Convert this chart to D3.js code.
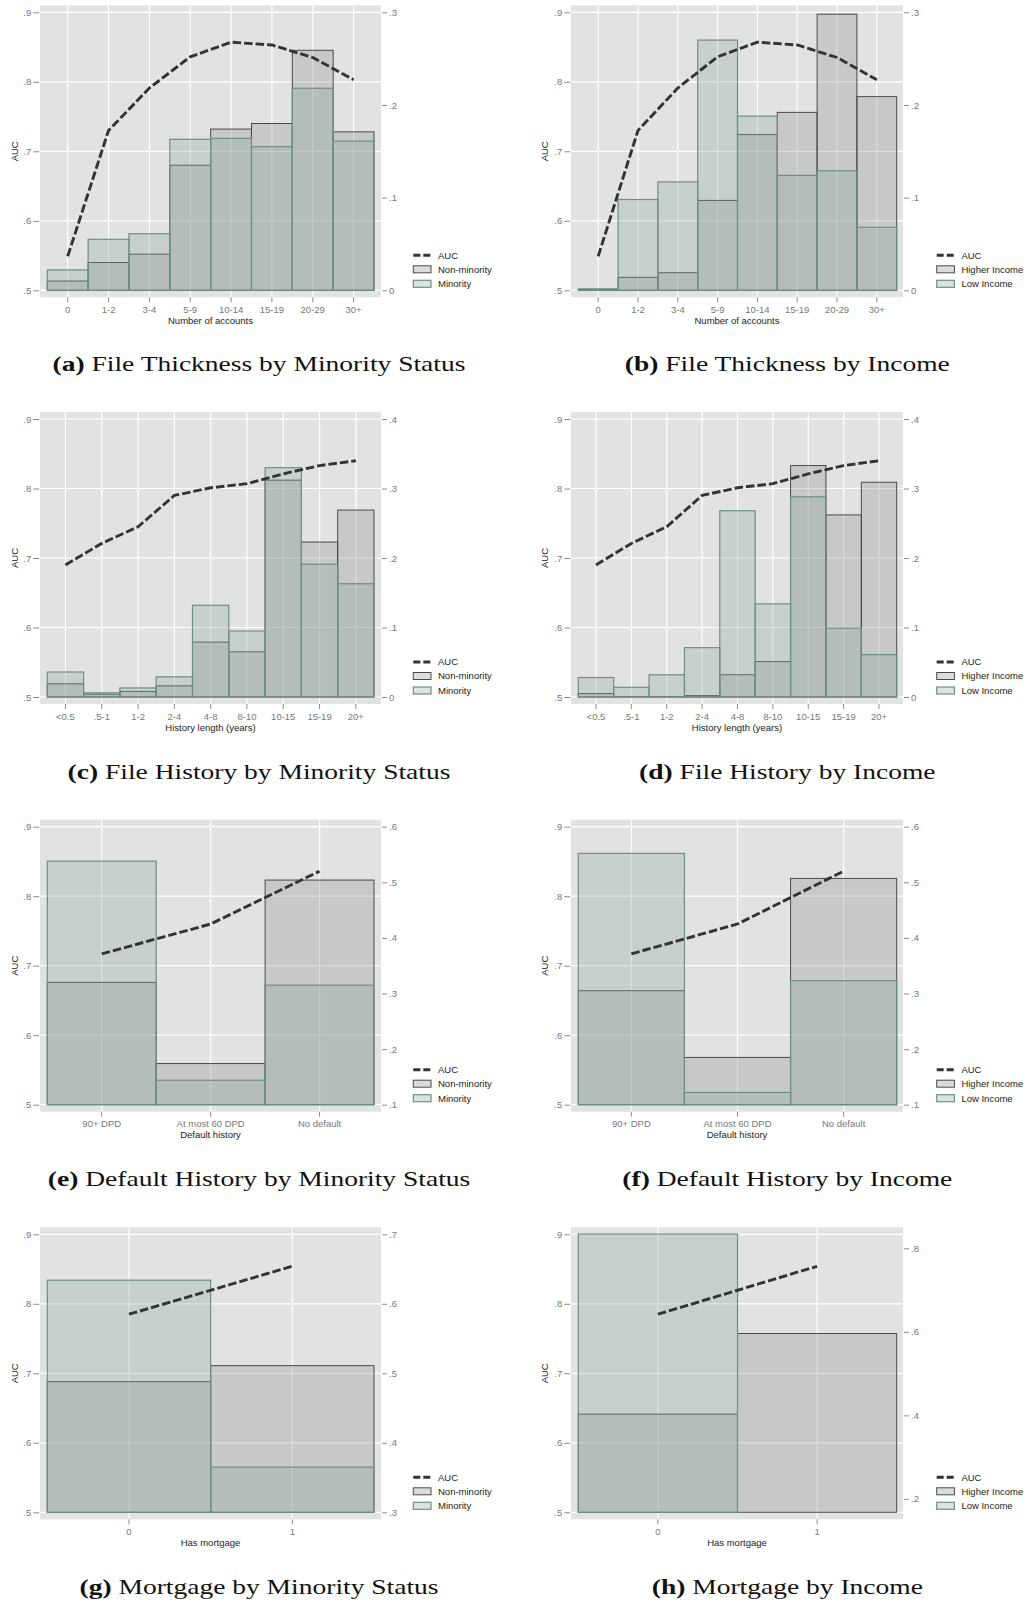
<!DOCTYPE html>
<html>
<head>
<meta charset="utf-8">
<script src="https://cdn.jsdelivr.net/npm/d3@7"></script>
<style>
  body { margin: 0; background: #fff; }
  text { font-family: "Liberation Sans", Arial, sans-serif; }
</style>
</head>
<body>
<script>
// categories
var thicknessCats = ["0", "1-2", "3-4", "5-9", "10-14", "15-19", "20-29", "30+"];
var historyCats = ["<0.5", ".5-1", "1-2", "2-4", "4-8", "8-10", "10-15", "15-19", "20+"];
var defaultCats = ["90+ DPD", "At most 60 DPD", "No default"];
var mortgageCats = ["0", "1"];

// AUC by category (left axis)
var thicknessAUC = [0.549, 0.730, 0.791, 0.836, 0.857, 0.853, 0.835, 0.803];
var historyAUC = [0.690, 0.721, 0.745, 0.790, 0.801, 0.807, 0.821, 0.833, 0.840];
var defaultAUC = [0.717, 0.760, 0.836];
var mortgageAUC = [0.785, 0.854];

// population shares (right axis)
var thicknessNonMinority = [0.010, 0.030, 0.039, 0.135, 0.174, 0.180, 0.259, 0.171];
var thicknessMinority = [0.022, 0.055, 0.061, 0.163, 0.164, 0.155, 0.218, 0.161];
var thicknessHigherIncome = [0.001, 0.014, 0.019, 0.097, 0.168, 0.192, 0.298, 0.209];
var thicknessLowIncome = [0.0015, 0.098, 0.117, 0.270, 0.188, 0.124, 0.129, 0.068];

var historyNonMinority = [0.019, 0.004, 0.008, 0.016, 0.079, 0.065, 0.312, 0.223, 0.269];
var historyMinority = [0.036, 0.006, 0.013, 0.029, 0.132, 0.095, 0.330, 0.191, 0.163];
var historyHigherIncome = [0.005, 0.0005, 0.0005, 0.002, 0.032, 0.051, 0.333, 0.262, 0.309];
var historyLowIncome = [0.028, 0.014, 0.032, 0.071, 0.268, 0.134, 0.288, 0.099, 0.061];

var defaultNonMinority = [0.320, 0.174, 0.504];
var defaultMinority = [0.538, 0.144, 0.315];
var defaultHigherIncome = [0.305, 0.185, 0.507];
var defaultLowIncome = [0.552, 0.122, 0.323];

var mortgageNonMinority = [0.488, 0.511];
var mortgageMinority = [0.634, 0.365];
var mortgageHigherIncome = [0.403, 0.596];
var mortgageLowIncome = [0.834, null];

// axis ticks
var aucTicks = [0.5, 0.6, 0.7, 0.8, 0.9];
var thicknessShareTicks = [0, 0.1, 0.2, 0.3];
var historyShareTicks = [0, 0.1, 0.2, 0.3, 0.4];
var defaultShareTicks = [0.1, 0.2, 0.3, 0.4, 0.5, 0.6];
var mortgageMinShareTicks = [0.3, 0.4, 0.5, 0.6, 0.7];
var mortgageIncShareTicks = [0.2, 0.4, 0.6, 0.8];

var minorityLegend = ["AUC", "Non-minority", "Minority"];
var incomeLegend = ["AUC", "Higher Income", "Low Income"];

// layout
var cols = [
  {bgL: 40, bgR: 381, barL: 47.3, barR: 374, yTitleX: 15, legX: 413.3, capX: 259},
  {bgL: 571, bgR: 903, barL: 578.3, barR: 896.7, yTitleX: 545, legX: 936.7, capX: 787.3}
];
var rowTop = [12.3, 419, 826.7, 1234.3];
var plotH = 278;
var capBase = [370.5, 779.2, 1186.1, 1594];
var capStretch = 1.31;

var svg = d3.select("body").append("svg")
    .attr("width", 1026)
    .attr("height", 1602);

var fmt = d => d === 0 ? "0" : d3.format(".1f")(d).replace(/^0/, "");

function panel(p) {
  var c = cols[p.col];
  var top = rowTop[p.row], base = top + plotH;
  var g = svg.append("g");

  var y = d3.scaleLinear().domain([0.5, 0.9]).range([base, top]);
  var y2 = d3.scaleLinear().domain(p.rightDomain).range([base, top]);
  var x = d3.scaleBand().domain(p.cats).range([c.barL, c.barR]).padding(0);
  var bw = x.bandwidth();
  var cx = d => x(d) + bw / 2;

  g.append("rect")
    .attr("x", c.bgL).attr("y", top - 7)
    .attr("width", c.bgR - c.bgL).attr("height", plotH + 14)
    .attr("fill", "#e2e2e2");

  g.selectAll(".hg").data(aucTicks).enter().append("line")
    .attr("x1", c.bgL).attr("x2", c.bgR)
    .attr("y1", d => y(d)).attr("y2", d => y(d))
    .attr("stroke", "#fff").attr("stroke-width", 1.2);
  g.selectAll(".vg").data(p.cats).enter().append("line")
    .attr("x1", cx).attr("x2", cx)
    .attr("y1", top - 7).attr("y2", base + 7)
    .attr("stroke", "#fff").attr("stroke-width", 1.2);

  var dataA = p.cats.map((k, i) => ({k: k, v: p.groupA[i]})).filter(d => d.v != null);
  var dataB = p.cats.map((k, i) => ({k: k, v: p.groupB[i]})).filter(d => d.v != null);

  g.selectAll(".ba").data(dataA).enter().append("rect")
    .attr("x", d => x(d.k)).attr("width", bw)
    .attr("y", d => y2(d.v)).attr("height", d => base - y2(d.v))
    .attr("fill", "#8a8a8a").attr("fill-opacity", 0.3)
    .attr("stroke", "#4a4a4a").attr("stroke-width", 1);

  g.selectAll(".bb").data(dataB).enter().append("rect")
    .attr("x", d => x(d.k)).attr("width", bw)
    .attr("y", d => y2(d.v)).attr("height", d => base - y2(d.v))
    .attr("fill", "#88a699").attr("fill-opacity", 0.3)
    .attr("stroke", "#6d9084").attr("stroke-width", 1.2);

  var line = d3.line().x((d, i) => cx(p.cats[i])).y(d => y(d));
  g.append("path")
    .datum(p.auc)
    .attr("fill", "none")
    .attr("stroke", "#333")
    .attr("stroke-width", 2.9)
    .attr("stroke-dasharray", "8.5,3")
    .attr("d", line);

  // axes
  var la = g.append("g")
    .attr("transform", `translate(${c.bgL - 0.7},0)`)
    .call(d3.axisLeft(y).tickValues(aucTicks).tickSize(6).tickPadding(2).tickFormat(fmt));
  var ra = g.append("g")
    .attr("transform", `translate(${c.bgR + 1},0)`)
    .call(d3.axisRight(y2).tickValues(p.rightTicks).tickSize(5).tickPadding(2).tickFormat(fmt));
  var ba = g.append("g")
    .attr("transform", `translate(0,${base + 7})`)
    .call(d3.axisBottom(x).tickSize(5).tickPadding(4));
  [la, ra, ba].forEach(a => {
    a.select(".domain").remove();
    a.selectAll(".tick line").attr("stroke", "#8c8c8c");
    a.selectAll(".tick text").attr("fill", "#777").style("font-size", "9.5px")
      .style("font-family", "Liberation Sans, Arial, sans-serif");
  });

  g.append("text")
    .attr("transform", `translate(${c.yTitleX},${(top + base) / 2}) rotate(-90)`)
    .attr("text-anchor", "middle").attr("dy", "0.35em")
    .attr("fill", "#222").style("font-size", "9.5px")
    .text("AUC");

  g.append("text")
    .attr("x", (c.bgL + c.bgR) / 2).attr("y", base + 33.5)
    .attr("text-anchor", "middle")
    .attr("fill", "#222").style("font-size", "9.5px")
    .text(p.xTitle);

  // legend
  var lg = g.append("g").attr("transform", `translate(${c.legX},${base})`);
  lg.append("line")
    .attr("x1", 0).attr("x2", 19).attr("y1", -35).attr("y2", -35)
    .attr("stroke", "#333").attr("stroke-width", 2.9).attr("stroke-dasharray", "7,3");
  lg.append("rect").attr("x", 0).attr("y", -24.5).attr("width", 17.7).attr("height", 7)
    .attr("fill", "#8a8a8a").attr("fill-opacity", 0.3)
    .attr("stroke", "#4a4a4a").attr("stroke-width", 1);
  lg.append("rect").attr("x", 0).attr("y", -10).attr("width", 17.7).attr("height", 7)
    .attr("fill", "#88a699").attr("fill-opacity", 0.3)
    .attr("stroke", "#6d9084").attr("stroke-width", 1.2);
  lg.selectAll(".lt").data(p.legend).enter().append("text")
    .attr("x", 24.7).attr("y", (d, i) => [-35, -21, -6.5][i])
    .attr("dy", "0.35em")
    .attr("fill", "#222").style("font-size", "9.5px")
    .text(d => d);

  // caption
  var cap = svg.append("text")
    .attr("transform", `translate(${c.capX},${capBase[p.row]}) scale(${capStretch},1)`)
    .attr("text-anchor", "middle")
    .style("font-family", "Liberation Serif, Times New Roman, serif")
    .style("font-size", "21px")
    .attr("fill", "#111");
  cap.append("tspan").style("font-weight", "bold").text("(" + p.letter + ")");
  cap.append("tspan").text(" " + p.caption);
}

panel({row: 0, col: 0, letter: "a", caption: "File Thickness by Minority Status",
  cats: thicknessCats, auc: thicknessAUC, groupA: thicknessNonMinority, groupB: thicknessMinority,
  rightDomain: [0, 0.3], rightTicks: thicknessShareTicks, xTitle: "Number of accounts", legend: minorityLegend});
panel({row: 0, col: 1, letter: "b", caption: "File Thickness by Income",
  cats: thicknessCats, auc: thicknessAUC, groupA: thicknessHigherIncome, groupB: thicknessLowIncome,
  rightDomain: [0, 0.3], rightTicks: thicknessShareTicks, xTitle: "Number of accounts", legend: incomeLegend});
panel({row: 1, col: 0, letter: "c", caption: "File History by Minority Status",
  cats: historyCats, auc: historyAUC, groupA: historyNonMinority, groupB: historyMinority,
  rightDomain: [0, 0.4], rightTicks: historyShareTicks, xTitle: "History length (years)", legend: minorityLegend});
panel({row: 1, col: 1, letter: "d", caption: "File History by Income",
  cats: historyCats, auc: historyAUC, groupA: historyHigherIncome, groupB: historyLowIncome,
  rightDomain: [0, 0.4], rightTicks: historyShareTicks, xTitle: "History length (years)", legend: incomeLegend});
panel({row: 2, col: 0, letter: "e", caption: "Default History by Minority Status",
  cats: defaultCats, auc: defaultAUC, groupA: defaultNonMinority, groupB: defaultMinority,
  rightDomain: [0.1, 0.6], rightTicks: defaultShareTicks, xTitle: "Default history", legend: minorityLegend});
panel({row: 2, col: 1, letter: "f", caption: "Default History by Income",
  cats: defaultCats, auc: defaultAUC, groupA: defaultHigherIncome, groupB: defaultLowIncome,
  rightDomain: [0.1, 0.6], rightTicks: defaultShareTicks, xTitle: "Default history", legend: incomeLegend});
panel({row: 3, col: 0, letter: "g", caption: "Mortgage by Minority Status",
  cats: mortgageCats, auc: mortgageAUC, groupA: mortgageNonMinority, groupB: mortgageMinority,
  rightDomain: [0.3, 0.7], rightTicks: mortgageMinShareTicks, xTitle: "Has mortgage", legend: minorityLegend});
panel({row: 3, col: 1, letter: "h", caption: "Mortgage by Income",
  cats: mortgageCats, auc: mortgageAUC, groupA: mortgageHigherIncome, groupB: mortgageLowIncome,
  rightDomain: [0.168, 0.8335], rightTicks: mortgageIncShareTicks, xTitle: "Has mortgage", legend: incomeLegend});
</script>
</body>
</html>
